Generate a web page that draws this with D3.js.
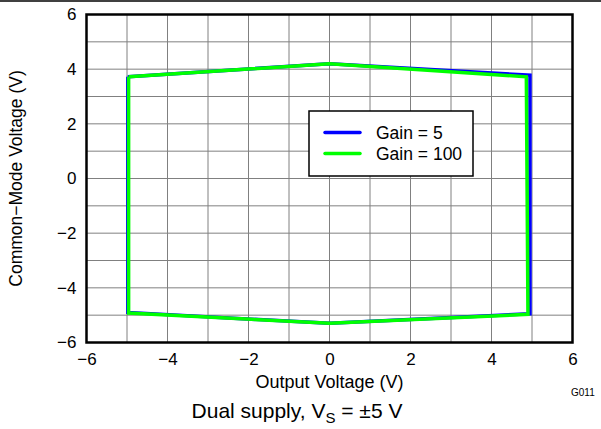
<!DOCTYPE html>
<html>
<head>
<meta charset="utf-8">
<script src="https://cdn.jsdelivr.net/npm/d3@7"></script>
<style>
  body { margin: 0; background: #fff; }
  svg { font-family: "Liberation Sans", Arial, sans-serif; }
</style>
</head>
<body>
<svg id="chart" width="601" height="429"></svg>
<script>
// data
var xTicks = [-6, -4, -2, 0, 2, 4, 6];
var yTicks = [-6, -4, -2, 0, 2, 4, 6];
var gridStep = [-6, -5, -4, -3, -2, -1, 0, 1, 2, 3, 4, 5, 6];

var gain5X = [-4.98, 0, 4.95, 4.95, 0, -4.98, -4.98];
var gain5Y = [3.72, 4.2, 3.78, -4.95, -5.3, -4.9, 3.72];
var gain100X = [-4.96, 0, 4.86, 4.9, 0, -4.96, -4.96];
var gain100Y = [3.72, 4.2, 3.72, -4.97, -5.3, -4.92, 3.72];

var seriesNames = ["Gain = 5", "Gain = 100"];
var seriesColors = ["#0000ff", "#00ff00"];

var svg = d3.select("#chart");
var pL = 86.5, pR = 572.5, pT = 14.5, pB = 342.5;

var x = d3.scaleLinear().domain([-6, 6]).range([pL, pR]);
var y = d3.scaleLinear().domain([-6, 6]).range([pB, pT]);

// rule at very top
svg.append("line")
  .attr("x1", 0).attr("x2", 601).attr("y1", 1).attr("y2", 1)
  .attr("stroke", "#000").attr("stroke-width", 1.5);

// grid
var grid = svg.append("g").attr("class", "grid");
grid.selectAll("line.v").data(gridStep).enter().append("line")
  .attr("class", "v")
  .attr("x1", function(d){ return x(d); }).attr("x2", function(d){ return x(d); })
  .attr("y1", pT).attr("y2", pB)
  .attr("stroke", "#808080").attr("stroke-width", 1);
grid.selectAll("line.h").data(gridStep).enter().append("line")
  .attr("class", "h")
  .attr("y1", function(d){ return y(d); }).attr("y2", function(d){ return y(d); })
  .attr("x1", pL).attr("x2", pR)
  .attr("stroke", "#808080").attr("stroke-width", 1);

// series
function pts(xs, ys){ return xs.map(function(v, i){ return [v, ys[i]]; }); }
var line = d3.line().x(function(d){ return x(d[0]); }).y(function(d){ return y(d[1]); });

svg.append("path").datum(pts(gain5X, gain5Y))
  .attr("d", line).attr("fill", "none")
  .attr("stroke", seriesColors[0]).attr("stroke-width", 3.5);
svg.append("path").datum(pts(gain100X, gain100Y))
  .attr("d", line).attr("fill", "none")
  .attr("stroke", seriesColors[1]).attr("stroke-width", 3.5);

// frame
svg.append("rect")
  .attr("x", pL).attr("y", pT)
  .attr("width", pR - pL).attr("height", pB - pT)
  .attr("fill", "none").attr("stroke", "#000").attr("stroke-width", 2.5);

// axes (labels only)
var fmt = function(d){ return String(d).replace("-", "\u2212"); };
var xAxis = svg.append("g").attr("transform", "translate(0," + pB + ")")
  .call(d3.axisBottom(x).tickValues(xTicks).tickSize(0).tickPadding(10).tickFormat(fmt));
var yAxis = svg.append("g").attr("transform", "translate(" + pL + ",0)")
  .call(d3.axisLeft(y).tickValues(yTicks).tickSize(0).tickPadding(10).tickFormat(fmt));
[xAxis, yAxis].forEach(function(a){
  a.select(".domain").remove();
  a.selectAll("text").attr("font-size", 17).attr("fill", "#000")
    .attr("font-family", "Liberation Sans, Arial, sans-serif");
});

// titles
svg.append("text")
  .attr("x", (pL + pR) / 2).attr("y", 388)
  .attr("text-anchor", "middle").attr("font-size", 18)
  .text("Output Voltage (V)");
svg.append("text")
  .attr("transform", "translate(22," + ((pT + pB) / 2) + ") rotate(-90)")
  .attr("text-anchor", "middle").attr("font-size", 17.5)
  .text("Common\u2212Mode Voltage (V)");
svg.append("text")
  .attr("x", 571).attr("y", 396)
  .attr("font-size", 10)
  .text("G011");

var sub = svg.append("text")
  .attr("x", 297).attr("y", 418)
  .attr("text-anchor", "middle").attr("font-size", 21);
sub.append("tspan").text("Dual supply, V");
sub.append("tspan").attr("font-size", 15).attr("dy", 5).text("S");
sub.append("tspan").attr("dy", -5).text(" = \u00b15 V");

// legend
var lg = svg.append("g").attr("transform", "translate(309,111)");
lg.append("rect").attr("width", 164).attr("height", 65)
  .attr("fill", "#fff").attr("stroke", "#000").attr("stroke-width", 1.5);
lg.selectAll("g.item").data(seriesNames).enter().append("g")
  .attr("class", "item")
  .attr("transform", function(d, i){ return "translate(0," + (21.5 + i * 21) + ")"; })
  .each(function(d, i){
    var g = d3.select(this);
    g.append("line").attr("x1", 16).attr("x2", 51)
      .attr("stroke", seriesColors[i]).attr("stroke-width", 3.5)
      .attr("stroke-linecap", "round");
    g.append("text").attr("x", 67).attr("y", 6.5)
      .attr("font-size", 17.5).text(d);
  });
</script>
</body>
</html>
